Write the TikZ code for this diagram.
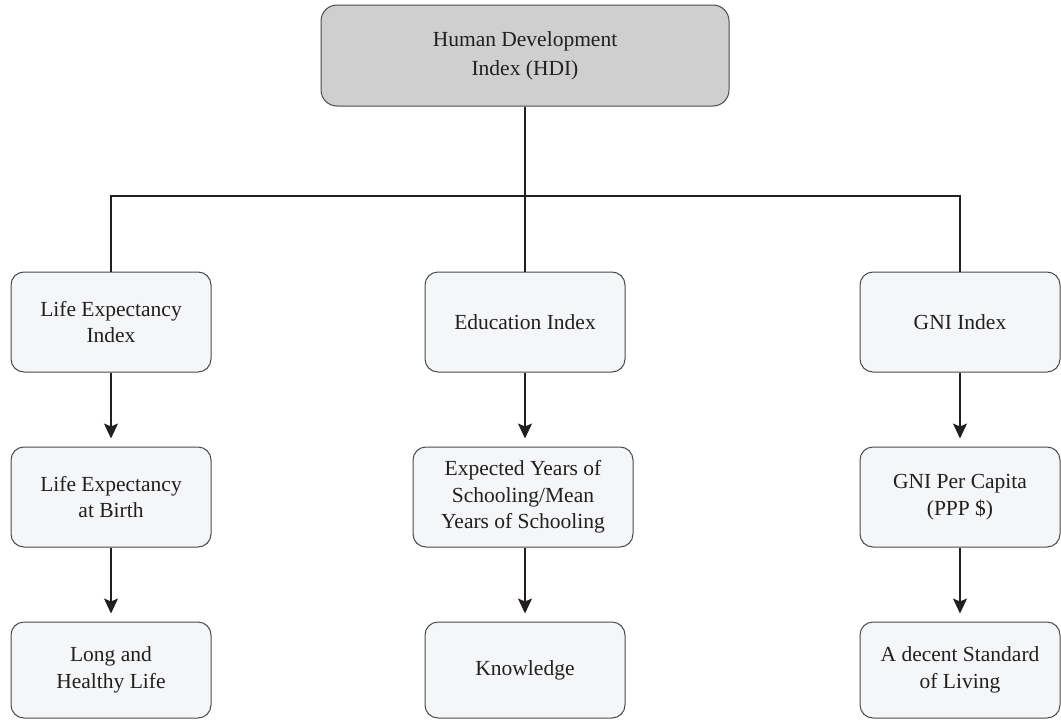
\documentclass[tikz,border=0pt]{standalone}
\usepackage{fontspec}
\setmainfont{Liberation Serif}
\usetikzlibrary{arrows.meta}
\definecolor{boxfill}{HTML}{F5F6F8}
\definecolor{hdifill}{HTML}{CFCFCF}
\definecolor{edge}{HTML}{4A4A4A}
\definecolor{ink}{HTML}{231F20}
\tikzset{
  box/.style={draw=edge, line width=1pt, fill=boxfill, rounded corners=13pt,
    minimum width=200pt, minimum height=100pt, align=center, text=ink,
    font=\fontsize{21.5}{26.5}\selectfont, inner sep=2pt},
  link/.style={draw=ink, line width=1.1pt},
  arr/.style={link, -{Stealth[length=15pt,width=14pt,inset=3pt]}, shorten >=8pt}
}
\begin{document}
\begin{tikzpicture}[x=1pt,y=1pt]
\useasboundingbox (0,0) rectangle (1061,-720);
\node[box, fill=hdifill, minimum width=408pt, minimum height=101pt, rounded corners=16pt, font=\fontsize{21.5}{29}\selectfont] (hdi) at (525,-55.5) {Human Development\\Index (HDI)};
\node[box] (le) at (111,-322) {Life Expectancy\\Index};
\node[box] (ed) at (525,-322) {Education Index};
\node[box] (gni) at (960,-322) {GNI Index};
\node[box] (leb) at (111,-497) {Life Expectancy\\at Birth};
\node[box, minimum width=220pt] (eys) at (523,-497) {Expected Years of\\Schooling/Mean\\Years of Schooling};
\node[box] (gpc) at (960,-497) {GNI Per Capita\\(PPP \$)};
\node[box, minimum height=96pt] (lhl) at (111,-670) {Long and\\Healthy Life};
\node[box, minimum height=96pt] (kn) at (525,-670) {Knowledge};
\node[box, minimum height=96pt] (dsl) at (960,-670) {A decent Standard\\of Living};
\coordinate (bus) at (0,-196);
\draw[link] (hdi.south) -- (hdi.south |- bus);
\draw[link] (le.north) -- (le.north |- bus) -- (gni.north |- bus) -- (gni.north);
\draw[link] (ed.north) -- (ed.north |- bus);
\draw[arr] (le) -- (leb);
\draw[arr] (leb) -- (lhl);
\draw[arr] (ed) -- (ed |- eys.north);
\draw[arr] (eys.south -| kn) -- (kn);
\draw[arr] (gni) -- (gpc);
\draw[arr] (gpc) -- (dsl);
\end{tikzpicture}
\end{document}
